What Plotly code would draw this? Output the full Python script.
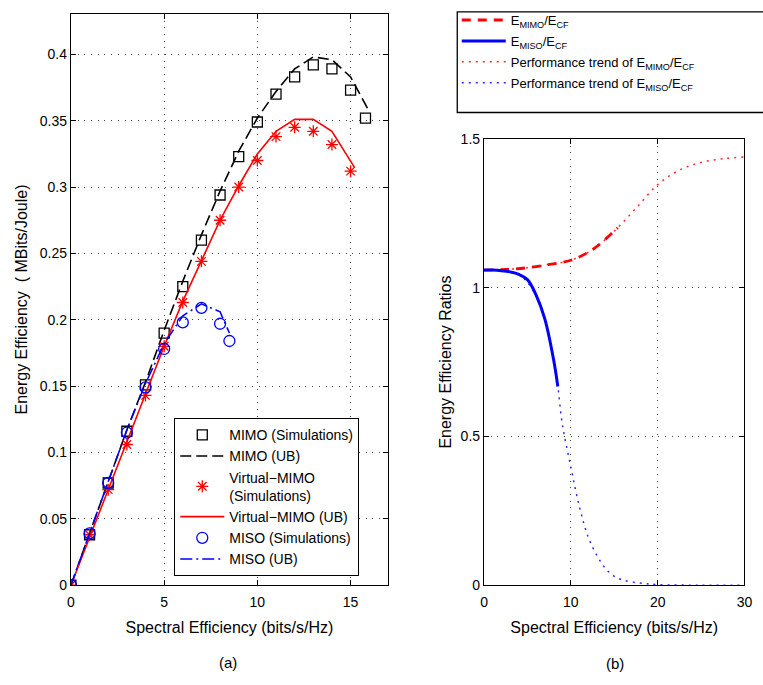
import plotly.graph_objects as go

# ---------- (a) data ----------
mimo_sim_x = [0, 1, 2, 3, 4, 5, 6, 7, 8, 9, 10, 11, 12, 13, 14, 15, 15.8]
mimo_sim_y = [0, 0.038, 0.077, 0.116, 0.151, 0.190, 0.225, 0.260, 0.294, 0.323, 0.349, 0.370, 0.383, 0.392, 0.389, 0.373, 0.352]
mimo_ub_x = [0, 1, 2, 3, 4, 5, 6, 7, 8, 9, 10, 11, 12, 13, 14, 15, 16]
mimo_ub_y = [0, 0.039, 0.078, 0.117, 0.153, 0.192, 0.229, 0.264, 0.297, 0.327, 0.352, 0.372, 0.389, 0.398, 0.396, 0.383, 0.357]
vm_sim_x = [0, 1, 2, 3, 4, 5, 6, 7, 8, 9, 10, 11, 12, 13, 14, 15]
vm_sim_y = [0, 0.038, 0.072, 0.106, 0.143, 0.180, 0.213, 0.244, 0.275, 0.300, 0.320, 0.338, 0.345, 0.342, 0.332, 0.312]
vm_ub_x = [0, 1, 2, 3, 4, 5, 6, 7, 8, 9, 10, 11, 12, 13, 14, 15.2]
vm_ub_y = [0, 0.036, 0.072, 0.108, 0.144, 0.180, 0.214, 0.245, 0.275, 0.301, 0.325, 0.342, 0.351, 0.351, 0.342, 0.315]
miso_sim_x = [0, 1, 2, 3, 4, 5, 6, 7, 8, 8.5]
miso_sim_y = [0, 0.039, 0.077, 0.115, 0.149, 0.178, 0.198, 0.209, 0.197, 0.184]
miso_ub_x = [0, 1, 2, 3, 4, 5, 6, 7, 8, 8.5]
miso_ub_y = [0, 0.039, 0.078, 0.117, 0.152, 0.182, 0.203, 0.212, 0.206, 0.190]

# ---------- (b) data ----------
mimo_ratio_x = [0, 2.5, 5, 7.5, 10, 12.5, 15, 15.4]
mimo_ratio_y = [1.059, 1.061, 1.067, 1.078, 1.092, 1.128, 1.190, 1.201]
miso_ratio_x = [0, 1, 2, 3, 4, 5, 6, 7, 8, 8.5]
miso_ratio_y = [1.059, 1.059, 1.057, 1.053, 1.045, 1.027, 0.975, 0.895, 0.760, 0.668]
mimo_trend_x = [0, 2.5, 5, 7.5, 10, 12.5, 15, 17.5, 20, 22.5, 25, 27.5, 30]
mimo_trend_y = [1.059, 1.061, 1.067, 1.078, 1.092, 1.128, 1.190, 1.267, 1.346, 1.395, 1.421, 1.433, 1.439]
miso_trend_x = [0, 2, 4, 6, 7, 8, 8.5, 9, 10, 11, 12, 13, 14, 15, 16, 18, 20, 25, 30]
miso_trend_y = [1.059, 1.057, 1.045, 0.975, 0.895, 0.760, 0.668, 0.545, 0.397, 0.262, 0.162, 0.100, 0.056, 0.030, 0.017, 0.007, 0.002, 0.0, 0.0]

xticks_a = [0, 5, 10, 15]
yticks_a = [0, 0.05, 0.1, 0.15, 0.2, 0.25, 0.3, 0.35, 0.4]
xticks_b = [0, 10, 20, 30]
yticks_b = [0, 0.5, 1, 1.5]

FONT = "Liberation Sans, Arial, sans-serif"
W, H = 763, 685


def px(x):  # page x pixel -> paper fraction
    return x / W


def py(y):  # page y pixel (from top) -> paper fraction
    return (H - y) / H


fig = go.Figure()

# (a) traces
fig.add_trace(go.Scatter(x=mimo_sim_x, y=mimo_sim_y, mode="markers", name="MIMO (Simulations)",
                         marker=dict(symbol="square-open", size=10, color="black", line=dict(width=1.3)),
                         xaxis="x", yaxis="y", legend="legend"))
fig.add_trace(go.Scatter(x=mimo_ub_x, y=mimo_ub_y, mode="lines", name="MIMO (UB)",
                         line=dict(color="black", width=1.6, dash="11px,5px"),
                         xaxis="x", yaxis="y", legend="legend"))
fig.add_trace(go.Scatter(x=vm_sim_x, y=vm_sim_y, mode="markers", name="Virtual\u2212MIMO<br>(Simulations)",
                         marker=dict(symbol="asterisk-open", size=10, color="red", line=dict(width=1.3, color="red")),
                         xaxis="x", yaxis="y", legend="legend"))
fig.add_trace(go.Scatter(x=vm_ub_x, y=vm_ub_y, mode="lines", name="Virtual\u2212MIMO (UB)",
                         line=dict(color="red", width=1.6),
                         xaxis="x", yaxis="y", legend="legend"))
fig.add_trace(go.Scatter(x=miso_sim_x, y=miso_sim_y, mode="markers", name="MISO (Simulations)",
                         marker=dict(symbol="circle-open", size=11, color="blue", line=dict(width=1.3)),
                         xaxis="x", yaxis="y", legend="legend"))
fig.add_trace(go.Scatter(x=miso_ub_x, y=miso_ub_y, mode="lines", name="MISO (UB)",
                         line=dict(color="blue", width=1.6, dash="12px,4px,2px,4px"),
                         xaxis="x", yaxis="y", legend="legend"))

# (b) traces
fig.add_trace(go.Scatter(x=mimo_trend_x, y=mimo_trend_y, mode="lines", showlegend=False,
                         legendgroup="g3",
                         line=dict(color="#ff2a2a", width=1.5, dash="2px,5px", shape="spline"),
                         xaxis="x2", yaxis="y2", legend="legend2"))
fig.add_trace(go.Scatter(x=miso_trend_x, y=miso_trend_y, mode="lines", showlegend=False,
                         legendgroup="g4",
                         line=dict(color="#2a2aff", width=1.5, dash="2px,5px", shape="spline"),
                         xaxis="x2", yaxis="y2", legend="legend2"))
fig.add_trace(go.Scatter(x=mimo_ratio_x, y=mimo_ratio_y, mode="lines",
                         name="E<sub>MIMO</sub>/E<sub>CF</sub>", legendgroup="g1",
                         line=dict(color="red", width=2.8, dash="9px,7px", shape="spline"),
                         xaxis="x2", yaxis="y2", legend="legend2"))
fig.add_trace(go.Scatter(x=miso_ratio_x, y=miso_ratio_y, mode="lines",
                         name="E<sub>MISO</sub>/E<sub>CF</sub>", legendgroup="g2",
                         line=dict(color="blue", width=3, shape="spline"),
                         xaxis="x2", yaxis="y2", legend="legend2"))
fig.add_trace(go.Scatter(x=[None], y=[None], mode="lines", legendgroup="g3",
                         name="Performance trend of E<sub>MIMO</sub>/E<sub>CF</sub>",
                         line=dict(color="#ff2a2a", width=1.5, dash="2px,5px"),
                         xaxis="x2", yaxis="y2", legend="legend2"))
fig.add_trace(go.Scatter(x=[None], y=[None], mode="lines", legendgroup="g4",
                         name="Performance trend of E<sub>MISO</sub>/E<sub>CF</sub>",
                         line=dict(color="#2a2aff", width=1.5, dash="2px,5px"),
                         xaxis="x2", yaxis="y2", legend="legend2"))

ax_common = dict(showline=True, linecolor="black", linewidth=1.3, mirror="ticks",
                 ticks="inside", ticklen=5, tickcolor="black", tickwidth=1,
                 showgrid=True, gridcolor="#444444", griddash="1px,5.7px", gridwidth=1,
                 zeroline=False, tickfont=dict(size=14, color="black", family=FONT),
                 title_font=dict(size=16, color="black", family=FONT))

fig.update_layout(
    width=W, height=H, autosize=False,
    margin=dict(l=0, r=0, t=0, b=0),
    paper_bgcolor="white", plot_bgcolor="white",
    font=dict(family=FONT, color="black"),
    xaxis=dict(domain=[px(68), px(390)], range=[0, 17], tickvals=xticks_a, ticklabelstandoff=4,
               title=dict(text="Spectral Efficiency (bits/s/Hz)", standoff=12), anchor="y", **ax_common),
    yaxis=dict(domain=[py(591), py(6)], range=[0, 0.4305], tickvals=yticks_a,
               title=dict(text="Energy Efficiency  ( MBits/Joule)", standoff=8), anchor="x", **ax_common),
    xaxis2=dict(domain=[px(487.7), px(752.3)], range=[0, 30], tickvals=xticks_b, ticklabelstandoff=4,
                ticklabeloverflow="allow",
                title=dict(text="Spectral Efficiency (bits/s/Hz)", standoff=12), anchor="y2", **ax_common),
    yaxis2=dict(domain=[py(591), py(134)], range=[0, 1.5], tickvals=yticks_b,
                title=dict(text="Energy Efficiency Ratios", standoff=5), anchor="x2", **ax_common),
    legend=dict(x=px(173), y=py(420), xanchor="left", yanchor="top",
                bgcolor="white", bordercolor="black", borderwidth=1,
                font=dict(size=14, family=FONT, color="black"),
                itemwidth=44, tracegroupgap=0, itemsizing="trace"),
    legend2=dict(x=px(460), y=py(-3), xanchor="left", yanchor="top",
                 bgcolor="rgba(0,0,0,0)", borderwidth=0,
                 font=dict(size=13, family=FONT, color="black"),
                 itemwidth=44, tracegroupgap=1, traceorder="grouped"),
    shapes=[
        dict(type="rect", xref="paper", yref="paper",
             x0=px(460.5), x1=1.02, y0=py(107), y1=py(4),
             line=dict(color="black", width=1.3), fillcolor="rgba(0,0,0,0)", layer="below"),
    ],
    annotations=[
        dict(text="(a)", x=px(228), y=py(670), xref="paper", yref="paper",
             xanchor="center", yanchor="middle",
             showarrow=False, font=dict(size=15, family=FONT, color="black")),
        dict(text="(b)", x=px(620.7), y=py(671), xref="paper", yref="paper",
             xanchor="center", yanchor="middle",
             showarrow=False, font=dict(size=15, family=FONT, color="black")),
    ],
)

fig.write_html("out.html", config={"displayModeBar": False},
               post_script="document.body.style.margin='0';document.body.style.overflow='hidden';")
